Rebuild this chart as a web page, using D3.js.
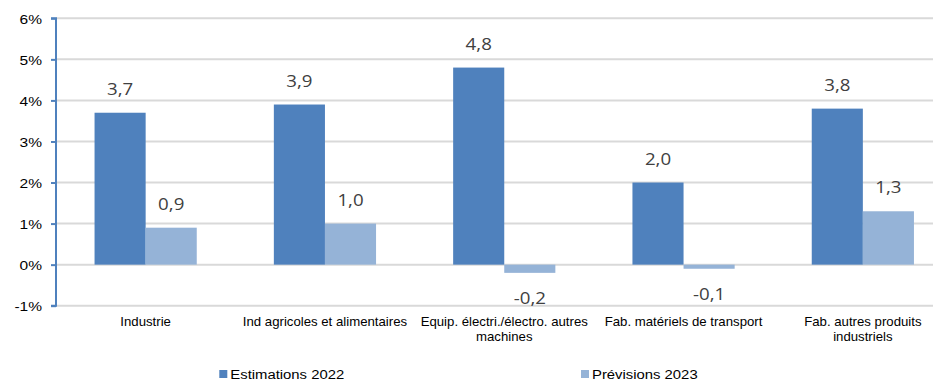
<!DOCTYPE html>
<html>
<head>
<meta charset="utf-8">
<script src="https://cdn.jsdelivr.net/npm/d3@7"></script>
<style>
  html, body { margin: 0; padding: 0; background: #fff; }
  svg { display: block; }
</style>
</head>
<body>
<svg id="chart" width="933" height="381"></svg>
<script>
// Sector categories (label lines)
const categories = [
  ["Industrie"],
  ["Ind agricoles et alimentaires"],
  ["Equip. électri./électro. autres", "machines"],
  ["Fab. matériels de transport"],
  ["Fab. autres produits", "industriels"]
];
const seriesNames = ["Estimations 2022", "Prévisions 2023"];
const estimations2022 = [3.7, 3.9, 4.8, 2.0, 3.8];
const previsions2023 = [0.9, 1.0, -0.2, -0.1, 1.3];
const yTicks = [-1, 0, 1, 2, 3, 4, 5, 6];
const colors = ["#4f81bd", "#95b3d7"];

const svg = d3.select("#chart");
const plotLeft = 56, plotTop = 18.3, plotBottom = 305.7;
const step = 179.3;
const plotRight = plotLeft + step * categories.length;
// text is drawn slightly wide
const stretch = 1.1;
const sansFont = "'Liberation Sans', Arial, sans-serif";

const y = d3.scaleLinear().domain([-1, 6]).range([plotBottom, plotTop]);
const x0 = d3.scaleBand().domain(d3.range(categories.length)).range([plotLeft, plotRight]).padding(0);
const barW = step * 0.285;
const x1 = d3.scaleBand().domain([0, 1]).range([0, barW * 2]).padding(0);

// Gridlines
svg.append("g").selectAll("line").data(yTicks).join("line")
  .attr("x1", plotLeft).attr("x2", plotRight)
  .attr("y1", d => y(d)).attr("y2", d => y(d))
  .attr("stroke", "#d9d9d9").attr("stroke-width", 2);

// Bars
const series = [estimations2022, previsions2023];
const rows = [];
categories.forEach((c, i) => series.forEach((s, j) => rows.push({ i, j, v: s[i] })));
const gx = i => x0(i) + x0.bandwidth() / 2 - barW;

svg.append("g").selectAll("rect").data(rows).join("rect")
  .attr("x", d => gx(d.i) + x1(d.j))
  .attr("width", x1.bandwidth())
  .attr("y", d => y(Math.max(0, d.v)))
  .attr("height", d => Math.abs(y(d.v) - y(0)))
  .attr("fill", d => colors[d.j]);

// Value labels
const fmt = v => v.toFixed(1).replace(".", ",");
svg.append("g").selectAll("text").data(rows).join("text")
  .attr("transform", d => {
    const tx = gx(d.i) + x1(d.j) + x1.bandwidth() / 2;
    const ty = d.v >= 0 ? y(d.v) - 18 : y(d.v) + 31;
    return `translate(${tx},${ty}) scale(${stretch},1)`;
  })
  .attr("text-anchor", "middle")
  .attr("font-family", "'Open Sans', 'Noto Sans', sans-serif")
  .attr("font-size", 17)
  .attr("fill", "#404040")
  .text(d => fmt(d.v));

// Y axis
const yAxis = d3.axisLeft(y).tickValues(yTicks).tickSize(5).tickPadding(8)
  .tickFormat(d => d + "%");
const ya = svg.append("g").attr("transform", `translate(${plotLeft},0)`).call(yAxis);
ya.select(".domain").attr("stroke", "#4f81bd").attr("stroke-width", 2)
  .attr("d", `M-5,${y(6)}H0V${y(-1)}H-5`);
ya.selectAll(".tick line").attr("stroke", "#4f81bd").attr("stroke-width", 2);
ya.selectAll(".tick text")
  .attr("x", 0)
  .attr("transform", `translate(-14,0) scale(${stretch + 0.05},1)`)
  .attr("font-family", sansFont)
  .attr("font-size", 13.5).attr("fill", "#000").attr("dy", "0.35em");

// Category labels
const cl = svg.append("g").selectAll("text").data(categories).join("text")
  .attr("transform", (d, i) => `translate(${x0(i) + x0.bandwidth() / 2},326) scale(${stretch},1)`)
  .attr("text-anchor", "middle")
  .attr("font-family", sansFont)
  .attr("font-size", 12).attr("fill", "#000");
cl.selectAll("tspan").data(d => d).join("tspan")
  .attr("x", 0)
  .attr("dy", (d, k) => k === 0 ? 0 : 15)
  .text(d => d);

// Legend
const legendX = [219.3, 581];
const lg = svg.append("g").selectAll("g").data(seriesNames).join("g")
  .attr("transform", (d, i) => `translate(${legendX[i]},370)`);
lg.append("rect").attr("width", 8).attr("height", 8).attr("fill", (d, i) => colors[i]);
lg.append("text")
  .attr("transform", `translate(11,8.5) scale(${stretch},1)`)
  .attr("font-family", sansFont)
  .attr("font-size", 13.5).attr("fill", "#000")
  .text(d => d);
</script>
</body>
</html>
